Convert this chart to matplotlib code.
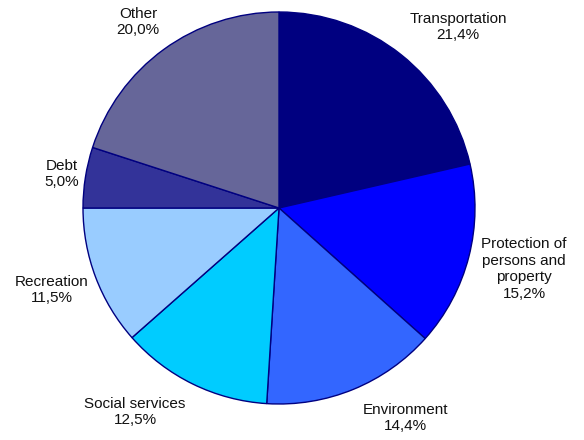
import matplotlib
matplotlib.use("Agg")
import matplotlib.pyplot as plt

categories = ["Transportation", "Protection of\npersons and\nproperty", "Environment",
              "Social services", "Recreation", "Debt", "Other"]
shares = [21.4, 15.2, 14.4, 12.5, 11.5, 5.0, 20.0]
colors = ["#000080", "#0000FF", "#3366FF", "#00CCFF", "#99CCFF", "#333399", "#666699"]

# label anchor positions (figure pixel space, y measured from top)
label_pos = [(458, 27), (524, 269), (405, 418), (135, 412), (52, 290), (62, 174), (138, 22)]

W, H = 584, 440
fig = plt.figure(figsize=(W / 100, H / 100), dpi=100)
ax = fig.add_axes([0, 0, 1, 1])
ax.set_xlim(0, W)
ax.set_ylim(0, H)
ax.set_aspect("equal")
ax.axis("off")

ax.pie(shares, colors=colors, startangle=90, counterclock=False,
       radius=196, center=(279, H - 208),
       wedgeprops=dict(edgecolor="#000080", linewidth=1.0))
ax.set_xlim(0, W)
ax.set_ylim(0, H)

for name, val, (x, y) in zip(categories, shares, label_pos):
    txt = f"{name}\n{val:.1f}%".replace(".", ",")
    ax.text(x, H - y, txt, ha="center", va="center", fontsize=11,
            family="Liberation Sans", color="#111111", linespacing=1.27)

fig.savefig("out.png", dpi=100)
